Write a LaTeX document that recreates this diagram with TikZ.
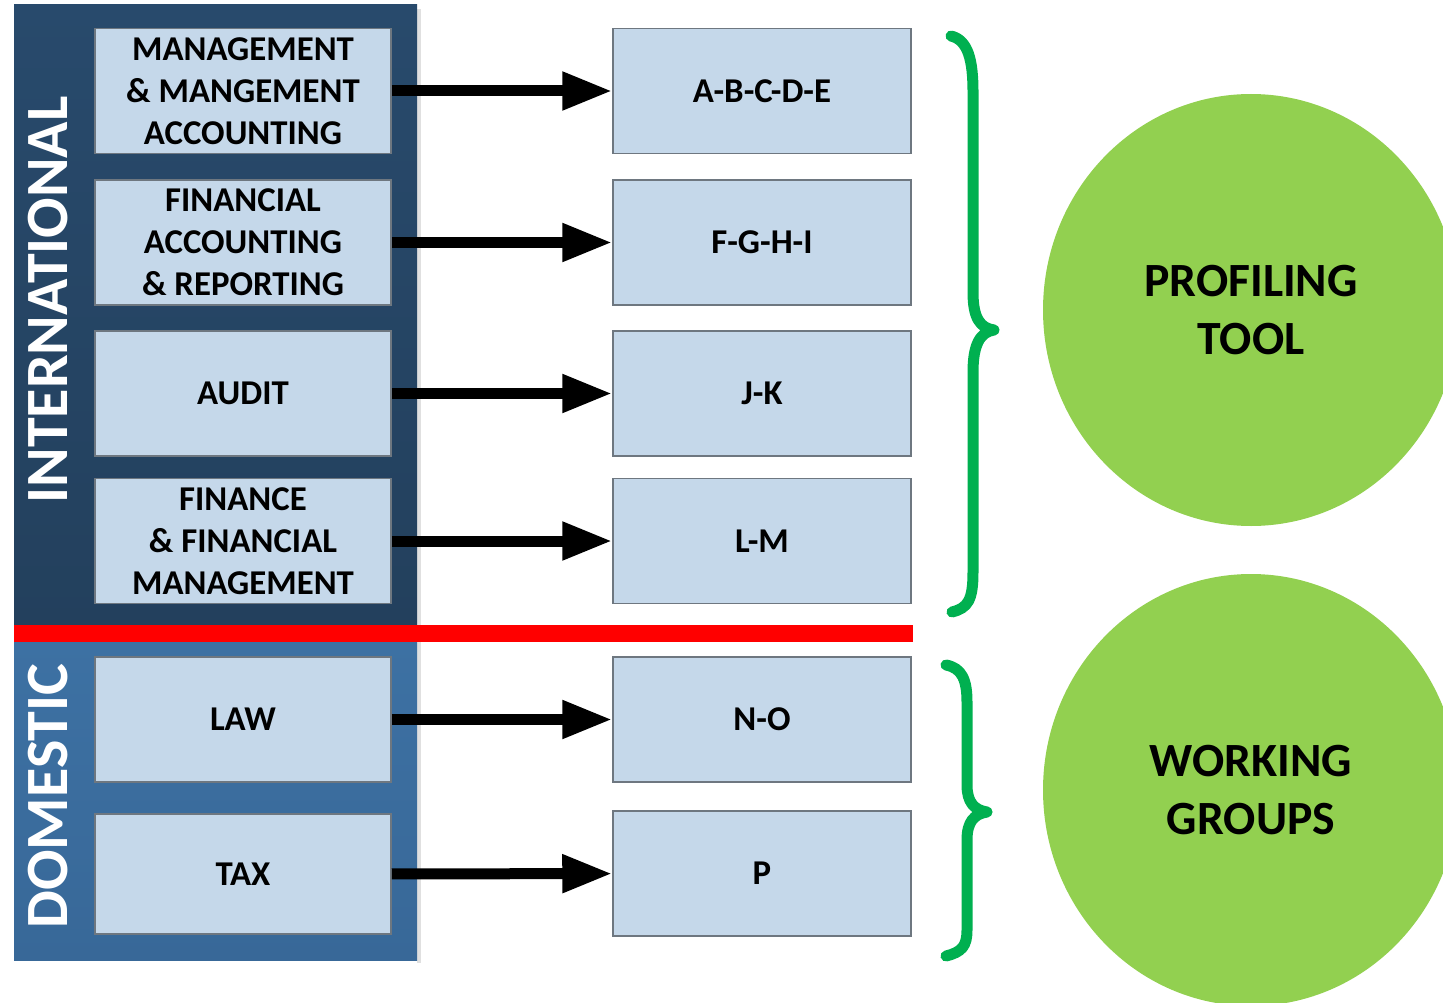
\documentclass[tikz,border=0pt]{standalone}
\usepackage{fontspec}
\setmainfont{Carlito}
\usetikzlibrary{arrows.meta,shapes.geometric}
\definecolor{intl}{HTML}{284A6C}
\definecolor{intlb}{HTML}{23405D}
\definecolor{dome}{HTML}{3D71A3}
\definecolor{domeb}{HTML}{386898}
\definecolor{boxfill}{HTML}{C5D8EA}
\definecolor{boxline}{HTML}{6E7780}
\definecolor{brace}{HTML}{00B050}
\definecolor{circ}{HTML}{92D050}
\tikzset{
  lbox/.style={draw=boxline, line width=1.5pt, fill=boxfill, minimum width=296pt, minimum height=125pt, inner sep=0pt, align=center, font=\fontsize{34.8}{42}\selectfont\bfseries},
  rbox/.style={lbox, minimum width=298pt},
  conn/.style={line width=11pt, -{Triangle[length=50pt,width=36pt]}},
  bracepath/.style={draw=brace, line width=11pt, line cap=round, line join=round},
  bigcirc/.style={ellipse, fill=circ, minimum width=416pt, minimum height=432pt, inner sep=0pt, align=center, font=\fontsize{47.7}{58}\selectfont\bfseries},
  vlabel/.style={rotate=90, text=white, font=\fontsize{60}{62}\selectfont\bfseries, inner sep=0pt}
}
\begin{document}
\begin{tikzpicture}[x=1pt,y=-1pt]
\useasboundingbox (0,0) rectangle (1443,1003);
\clip (0,0) rectangle (1443,1003);
\fill[white] (0,0) rectangle (1443,1003);
% panels
\fill[black!12] (417,9) rectangle (421,963);
\shade[top color=intl, bottom color=intlb] (14,5) rectangle (417,628);
\shade[top color=dome, bottom color=domeb] (14,640) rectangle (417,960);
\fill[red] (14,625) rectangle (913,642);
\node[vlabel] (intl) at (48,300) {INTERNATIONAL};
\node[vlabel] (dom) at (48,796) {DOMESTIC};
% left boxes
\node[lbox] (l1) at (243,91) {MANAGEMENT\\\& MANGEMENT\\ACCOUNTING};
\node[lbox] (l2) at (243,242.5) {FINANCIAL\\ACCOUNTING\\\& REPORTING};
\node[lbox] (l3) at (243,393.5) {AUDIT};
\node[lbox] (l4) at (243,541) {FINANCE\\\& FINANCIAL\\MANAGEMENT};
\node[lbox] (l5) at (243,719.5) {LAW};
\node[lbox, minimum height=120pt] (l6) at (243,874) {TAX};
% right boxes
\node[rbox] (r1) at (762,91) {A-B-C-D-E};
\node[rbox] (r2) at (762,242.5) {F-G-H-I};
\node[rbox] (r3) at (762,393.5) {J-K};
\node[rbox] (r4) at (762,541) {L-M};
\node[rbox] (r5) at (762,719.5) {N-O};
\node[rbox] (r6) at (762,873.5) {P};
% connectors
\foreach \i in {1,...,6} {\draw[conn] (l\i) -- (r\i);}
% braces
\draw[bracepath] (951,36) .. controls (968,40) and (973,60) .. (973,92) -- (973,292) .. controls (973,318) and (980,328) .. (994,330) .. controls (980,332) and (973,345) .. (973,372) -- (973,572) .. controls (973,600) and (968,608) .. (952,612);
\draw[bracepath] (946,665) .. controls (962,668) and (967,680) .. (967,702) -- (967,785) .. controls (967,802) and (974,810) .. (987,812) .. controls (974,814) and (967,822) .. (967,840) -- (967,930) .. controls (967,946) and (962,952) .. (946,956);
% circles
\node[bigcirc] (pt) at (1251,310) {PROFILING\\TOOL};
\node[bigcirc] (wg) at (1251,790) {WORKING\\GROUPS};
\end{tikzpicture}
\end{document}
